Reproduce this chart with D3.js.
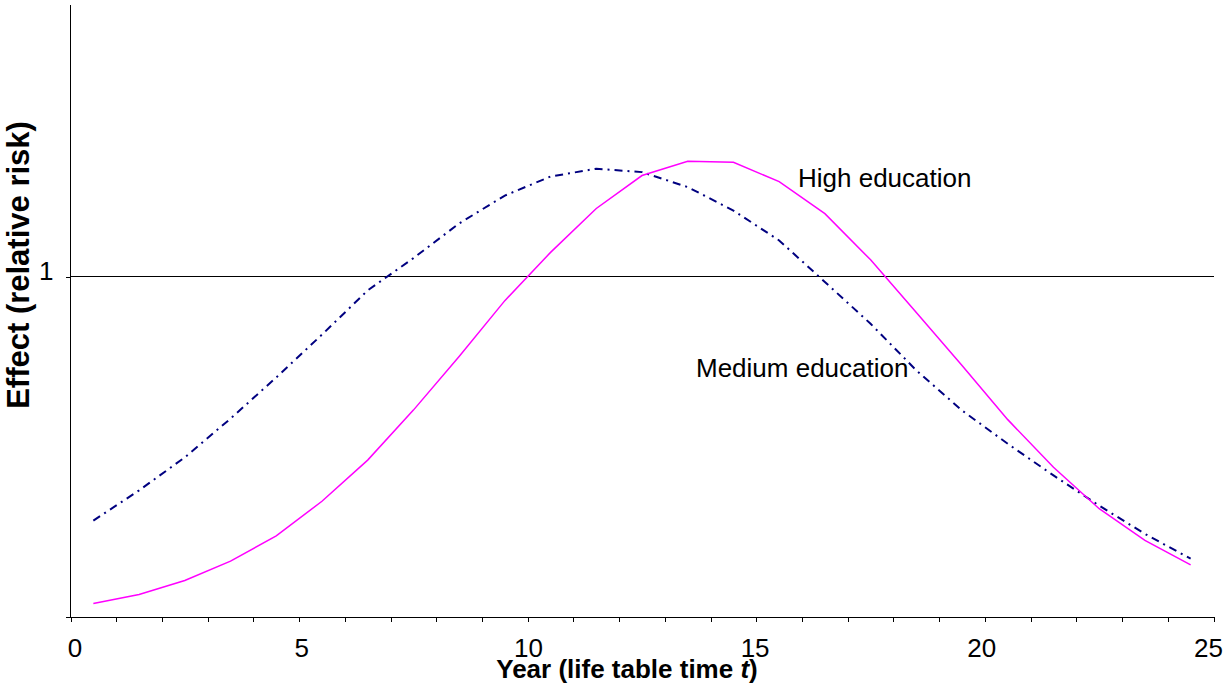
<!DOCTYPE html>
<html>
<head>
<meta charset="utf-8">
<script src="https://cdn.jsdelivr.net/npm/d3@7"></script>
<style>
  body { margin: 0; background: #fff; }
  svg { display: block; }
</style>
</head>
<body>
<script>
// life table years (mid-year points)
var years = [0.5, 1.5, 2.5, 3.5, 4.5, 5.5, 6.5, 7.5, 8.5, 9.5, 10.5, 11.5, 12.5,
             13.5, 14.5, 15.5, 16.5, 17.5, 18.5, 19.5, 20.5, 21.5, 22.5, 23.5, 24.5];

var highEducation = [0.038, 0.065, 0.106, 0.163, 0.237, 0.339, 0.460, 0.607, 0.765, 0.929,
                     1.071, 1.200, 1.297, 1.339, 1.336, 1.279, 1.185, 1.049, 0.894, 0.738,
                     0.579, 0.439, 0.317, 0.224, 0.152];

var mediumEducation = [0.282, 0.371, 0.468, 0.582, 0.703, 0.829, 0.959, 1.054, 1.156, 1.238,
                       1.294, 1.317, 1.307, 1.263, 1.194, 1.106, 0.984, 0.861, 0.724, 0.606,
                       0.508, 0.415, 0.326, 0.243, 0.170];

var xTicks = [0, 1, 2, 3, 4, 5, 6, 7, 8, 9, 10, 11, 12, 13, 14, 15, 16, 17, 18, 19, 20, 21, 22, 23, 24, 25];
var yTicks = [0, 1];
var seriesLabels = ["High education", "Medium education"];

var width = 1225, height = 686;

var svg = d3.select("body").append("svg")
    .attr("width", width)
    .attr("height", height)
    .attr("font-family", "Arial, 'Liberation Sans', sans-serif");

var x = d3.scaleLinear().domain([0, 25]).range([70.5, 1213.5]);
var y = d3.scaleLinear().domain([0, 1.8]).range([616.5, 4.5]);
// the labels sit a little inside the tick marks, like the original
var xLabel = d3.scaleLinear().domain([0, 25]).range([74.5, 1208]);

// reference line at relative risk 1
svg.append("line")
    .attr("x1", x(0)).attr("x2", x(25))
    .attr("y1", y(1)).attr("y2", y(1))
    .attr("stroke", "#000")
    .attr("stroke-width", 1)
    .attr("shape-rendering", "crispEdges");

// x axis
var xAxis = svg.append("g")
    .attr("transform", "translate(0," + y(0) + ")")
    .call(d3.axisBottom(x)
        .tickValues(xTicks)
        .tickSize(5)
        .tickPadding(17)
        .tickSizeOuter(0)
        .tickFormat(function(d) { return d % 5 === 0 ? d : ""; }));
xAxis.select(".domain").attr("stroke", "#000");
xAxis.selectAll("line, path").attr("shape-rendering", "crispEdges");
xAxis.selectAll("text")
    .attr("font-size", "26px").attr("fill", "#000").attr("font-family", null)
    .attr("x", function(d) { return xLabel(d) - x(d); });

// y axis
var yAxis = svg.append("g")
    .attr("transform", "translate(" + x(0) + ",0)")
    .call(d3.axisLeft(y)
        .tickValues(yTicks)
        .tickSize(5)
        .tickPadding(12)
        .tickSizeOuter(0)
        .tickFormat(function(d) { return d === 1 ? "1" : ""; }));
yAxis.select(".domain").attr("d", "M0," + y(1.8) + "V" + y(0));
yAxis.selectAll("line, path").attr("shape-rendering", "crispEdges");
yAxis.selectAll("text").attr("font-size", "26px").attr("fill", "#000")
    .attr("dy", "0.12em").attr("font-family", null);

// lines
var line = d3.line()
    .x(function(d) { return x(d[0]); })
    .y(function(d) { return y(d[1]); });

svg.append("path")
    .datum(d3.zip(years, mediumEducation))
    .attr("fill", "none")
    .attr("stroke", "#000080")
    .attr("stroke-width", 2)
    .attr("stroke-dasharray", "8,5,2,5")
    .attr("d", line);

svg.append("path")
    .datum(d3.zip(years, highEducation))
    .attr("fill", "none")
    .attr("stroke", "#ff00ff")
    .attr("stroke-width", 1.5)
    .attr("d", line);

// series labels
svg.append("text")
    .attr("x", 798).attr("y", 187)
    .attr("font-size", "26px")
    .text(seriesLabels[0]);

svg.append("text")
    .attr("x", 696).attr("y", 377)
    .attr("font-size", "26px")
    .text(seriesLabels[1]);

// axis titles
var xTitle = svg.append("text")
    .attr("x", 627).attr("y", 678)
    .attr("text-anchor", "middle")
    .attr("font-size", "26px")
    .attr("font-weight", "bold");
xTitle.append("tspan").text("Year (life table time ");
xTitle.append("tspan").attr("font-style", "italic").text("t");
xTitle.append("tspan").text(")");

svg.append("text")
    .attr("transform", "translate(29,265) rotate(-90)")
    .attr("text-anchor", "middle")
    .attr("font-size", "31px")
    .attr("font-weight", "bold")
    .text("Effect (relative risk)");
</script>
</body>
</html>
